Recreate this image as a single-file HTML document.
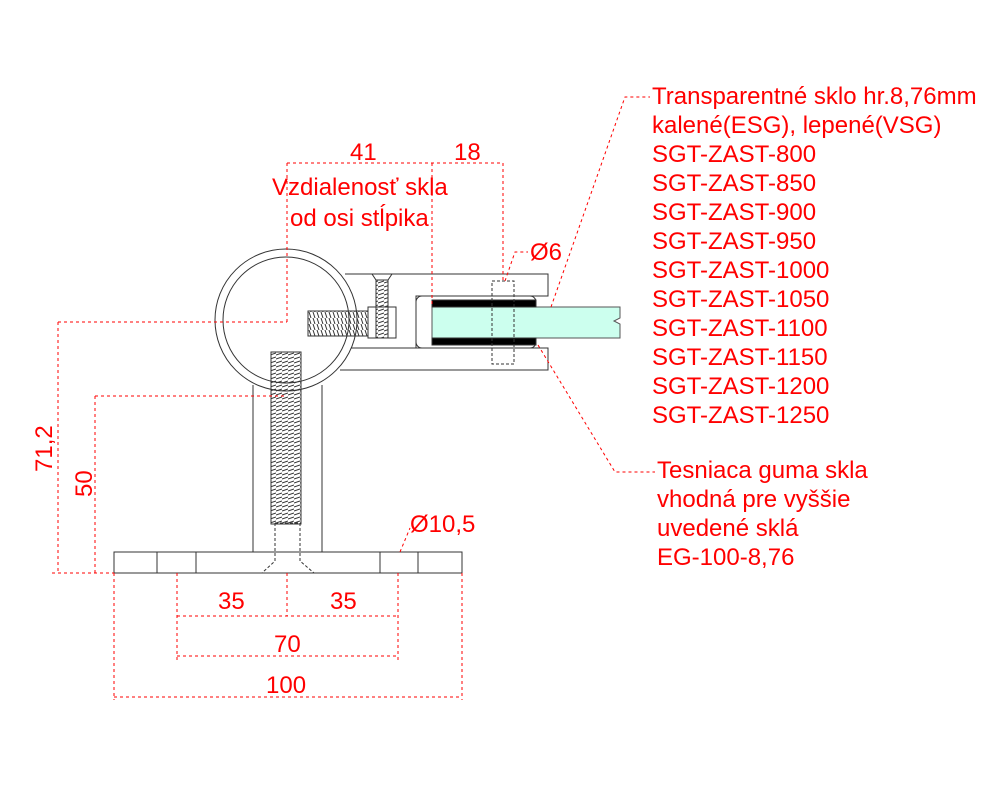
<!DOCTYPE html>
<html><head><meta charset="utf-8"><style>
html,body{margin:0;padding:0;background:#fff;}
svg{display:block;}
text{font-family:"Liberation Sans",Arial,sans-serif;fill:#f00;}
</style></head><body>
<svg width="1000" height="800" viewBox="0 0 1000 800" xmlns="http://www.w3.org/2000/svg">
<defs>
<pattern id="thr" width="6" height="4" patternUnits="userSpaceOnUse"><path d="M0 3 L6 1" stroke="#333" stroke-width="1"/></pattern>
<pattern id="thrh" width="4" height="6" patternUnits="userSpaceOnUse"><path d="M1 0 L3 6" stroke="#333" stroke-width="1"/></pattern>
</defs>
<g fill="none" stroke="#333" stroke-width="1">
<line x1="253" y1="385" x2="253" y2="552"/>
<line x1="322" y1="385" x2="322" y2="552"/>
<rect x="114" y="552" width="348" height="21"/>
<line x1="157" y1="552" x2="157" y2="573"/>
<line x1="196" y1="552" x2="196" y2="573"/>
<line x1="380" y1="552" x2="380" y2="573"/>
<line x1="418" y1="552" x2="418" y2="573"/>
<path d="M275 523 L275 561 L262 573 M300 523 L300 561 L314 573 M275 523 L300 523" stroke-dasharray="3,2"/>
<path d="M345 274 L548 274 L548 296 L416 296 L416 348 L345 348"/>
<rect x="416" y="296" width="120" height="52" rx="6"/>
<path d="M350 348 L548 348 L548 370 L340 370"/>
<circle cx="286" cy="320" r="71" fill="#fff"/>
<circle cx="286" cy="320" r="63"/>
<rect x="271" y="352" width="30" height="172" fill="url(#thr)" stroke="#333"/>
<rect x="308" y="311" width="62" height="25" fill="url(#thrh)" stroke="#333"/>
<rect x="368" y="307" width="28" height="31" fill="#fff"/>
<rect x="376" y="274" width="12" height="64" fill="url(#thr)"/>
<path d="M372 274 L392 274 L388 280 L376 280 Z" fill="#fff"/>
<path d="M432 307 L620 307 L620 318 L614 321 L620 324 L620 338 L432 338 Z" fill="#cfe" stroke="#555"/>
<rect x="432" y="300" width="104" height="7" fill="#000"/>
<rect x="432" y="338" width="104" height="7" fill="#000"/>
<rect x="492" y="281" width="22" height="83" stroke-dasharray="3,2" fill="none"/>
</g>
<g fill="none" stroke="#f00" stroke-width="1" stroke-dasharray="3,3">
<line x1="287" y1="163" x2="287" y2="322"/>
<line x1="432" y1="163" x2="432" y2="307"/>
<line x1="503" y1="163" x2="503" y2="281"/>
<line x1="287" y1="163" x2="503" y2="163"/>
<line x1="58" y1="322" x2="287" y2="322"/>
<line x1="95" y1="396" x2="286" y2="396"/>
<line x1="58" y1="322" x2="58" y2="573"/>
<line x1="95" y1="396" x2="95" y2="573"/>
<line x1="52" y1="573" x2="114" y2="573"/>
<line x1="114" y1="573" x2="114" y2="700"/>
<line x1="462" y1="573" x2="462" y2="700"/>
<line x1="177" y1="573" x2="177" y2="660"/>
<line x1="398" y1="573" x2="398" y2="660"/>
<line x1="287" y1="573" x2="287" y2="616"/>
<line x1="177" y1="616" x2="398" y2="616"/>
<line x1="177" y1="656" x2="398" y2="656"/>
<line x1="114" y1="697" x2="462" y2="697"/>
<path d="M505 281 L515 252 L528 252"/>
<path d="M400 552 L410 528"/>
<path d="M551 307 L625 97 L650 97"/>
<path d="M538 345 L615 472 L655 472"/>
</g>
<g font-size="24">
<text x="350" y="160">41</text>
<text x="454" y="160">18</text>
<text x="272" y="195">Vzdialenosť skla</text>
<text x="290" y="226">od osi stĺpika</text>
<text x="530" y="260">Ø6</text>
<text x="410" y="532">Ø10,5</text>
<text x="218" y="609">35</text>
<text x="330" y="609">35</text>
<text x="274" y="652">70</text>
<text x="266" y="693">100</text>
<text transform="translate(52,472) rotate(-90)">71,2</text>
<text transform="translate(92,497) rotate(-90)">50</text>
<text x="652" y="104">Transparentné sklo hr.8,76mm</text>
<text x="652" y="133">kalené(ESG), lepené(VSG)</text>
<text x="652" y="162">SGT-ZAST-800</text>
<text x="652" y="191">SGT-ZAST-850</text>
<text x="652" y="220">SGT-ZAST-900</text>
<text x="652" y="249">SGT-ZAST-950</text>
<text x="652" y="278">SGT-ZAST-1000</text>
<text x="652" y="307">SGT-ZAST-1050</text>
<text x="652" y="336">SGT-ZAST-1100</text>
<text x="652" y="365">SGT-ZAST-1150</text>
<text x="652" y="394">SGT-ZAST-1200</text>
<text x="652" y="423">SGT-ZAST-1250</text>
<text x="657" y="478">Tesniaca guma skla</text>
<text x="657" y="507">vhodná pre vyššie</text>
<text x="657" y="536">uvedené sklá</text>
<text x="657" y="565">EG-100-8,76</text>
</g>
</svg>
</body></html>
